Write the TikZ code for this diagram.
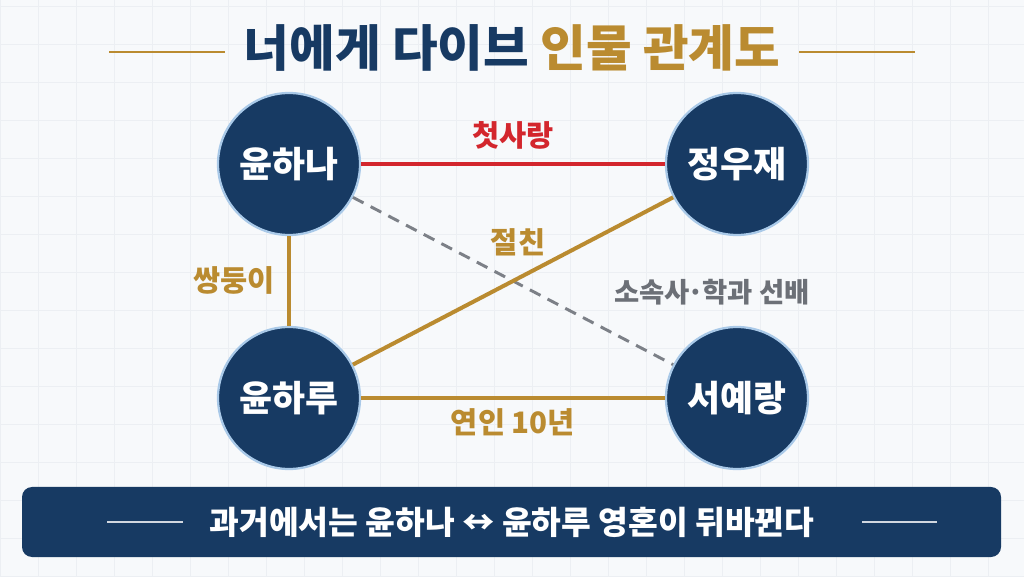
\documentclass[tikz,border=0pt]{standalone}
\usepackage{fontspec}
\setmainfont{Noto Sans CJK KR}
\usetikzlibrary{calc}

\definecolor{navy}{HTML}{173A63}
\definecolor{ringblue}{HTML}{A9C9E8}
\definecolor{gold}{HTML}{BA8B30}
\definecolor{lovered}{HTML}{D3262D}
\definecolor{dashgray}{HTML}{7C8087}
\definecolor{labelgray}{HTML}{6C7077}
\definecolor{paper}{HTML}{F7F9FB}
\definecolor{gridline}{HTML}{ECEFF3}

\tikzset{
  person/.style={circle, fill=navy, draw=ringblue, line width=1.6pt,
    minimum size=3.55cm, inner sep=0pt, text=white,
    font=\bfseries\fontsize{25.5}{28}\selectfont},
  tie/.style={line width=2.85pt},
  goldtie/.style={tie, draw=gold},
  redtie/.style={tie, draw=lovered},
  seniortie/.style={line width=2.1pt, draw=dashgray, dash pattern=on 8.5pt off 5.7pt},
  tielabel/.style={font=\bfseries\fontsize{21}{24}\selectfont},
  rule/.style={line width=1pt}
}

\begin{document}
\begin{tikzpicture}
			%%%%% START %%%%%
			\def\W{25.6}
			\def\H{14.4}
			\def\xl{7.225}
			\def\xr{18.425}
			\def\yt{10.3}
			\def\yb{4.45}

			\useasboundingbox (0,0) rectangle (\W,\H);
			\fill[paper] (0,0) rectangle (\W,\H);
			\draw[gridline, line width=0.4pt, step=0.95] (0,0) grid (\W,\H);

			% title
			\node[font=\bfseries\fontsize{35.3}{40}\selectfont] (title) at (12.8,13.2)
			  {{\color{navy}너에게 다이브} {\color{gold}인물 관계도}};
			\draw[rule, gold] ($(title.west)+(-0.35,-0.1)$) -- ++(-2.9,0);
			\draw[rule, gold] ($(title.east)+(0.35,-0.1)$) -- ++(2.9,0);

			% people
			\node[person] (hana) at (\xl,\yt) {윤하나};
			\node[person] (woojae) at (\xr,\yt) {정우재};
			\node[person] (haru) at (\xl,\yb) {윤하루};
			\node[person] (yerang) at (\xr,\yb) {서예랑};

			% ties
			\draw[redtie] (hana) -- (woojae);
			\draw[seniortie] (hana) -- (yerang);
			\draw[goldtie] (hana) -- (haru);
			\draw[goldtie] (haru) -- (woojae);
			\draw[goldtie] (haru) -- (yerang);

			\node[tielabel, text=lovered] (firstlove) at (12.825,11.025) {첫사랑};
			\node[tielabel, text=gold] (twins) at (5.85,7.4) {쌍둥이};
			\node[tielabel, text=gold] (bestie) at (12.95,8.35) {절친};
			\node[tielabel, text=labelgray, font=\bfseries\fontsize{19.5}{22}\selectfont] (senior) at (17.8,7.1)
			  {소속사\hspace{-0.08em}·\hspace{-0.08em}학과 선배};
			\node[tielabel, text=gold] (lovers) at (12.825,3.85) {연인 10년};

			% banner
			\fill[navy, rounded corners=0.25cm] (0.55,0.475) rectangle (25.025,2.225);
			\node[text=white, font=\bfseries\fontsize{23}{26}\selectfont] (swap) at (12.8,1.35)
			  {과거에서는 윤하나 ↔ 윤하루 영혼이 뒤바뀐다};
			\draw[rule, white!80!navy, line width=0.8pt] (2.675,1.35) -- (4.575,1.35);
			\draw[rule, white!80!navy, line width=0.8pt] (21.55,1.35) -- (23.425,1.35);
			%%%%% END %%%%%
		\end{tikzpicture}
\end{document}
